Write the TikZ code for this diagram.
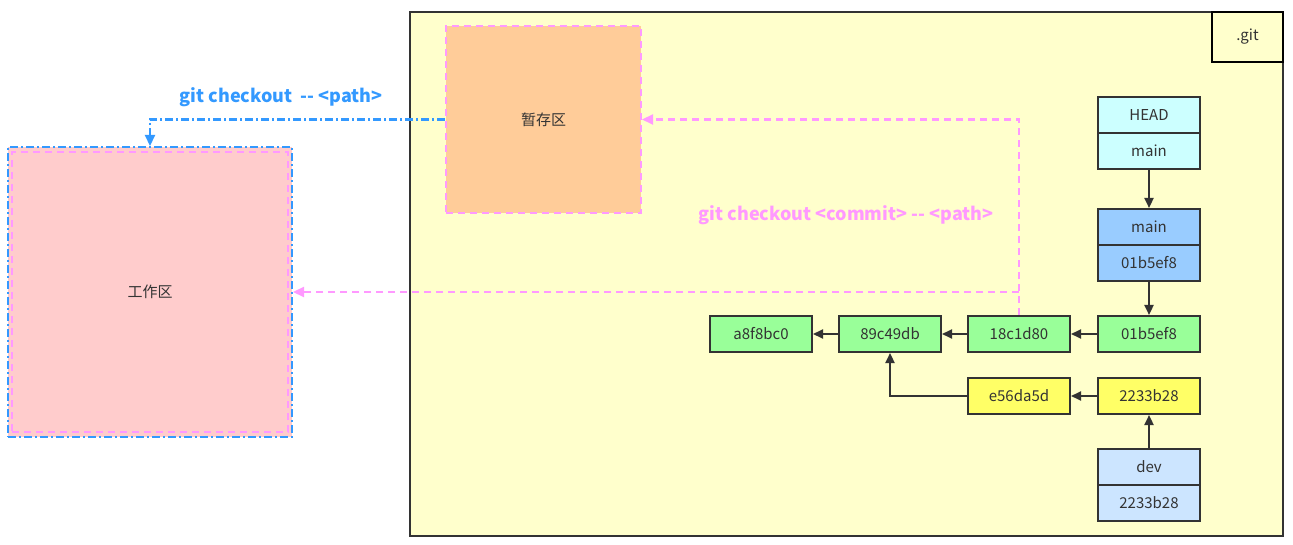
\documentclass[tikz,border=0pt]{standalone}
\usepackage{fontspec}
\setmainfont{Noto Sans CJK SC}
\usetikzlibrary{arrows.meta,calc}
\definecolor{gitfill}{HTML}{FFFFCC}
\definecolor{dark}{HTML}{333333}
\definecolor{stagefill}{HTML}{FFCC99}
\definecolor{workfill}{HTML}{FFCCCC}
\definecolor{pinkc}{HTML}{FF99FF}
\definecolor{bluec}{HTML}{3399FF}
\definecolor{headfill}{HTML}{CCFFFF}
\definecolor{mainfill}{HTML}{99CCFF}
\definecolor{commitfill}{HTML}{99FF99}
\definecolor{devcfill}{HTML}{FFFF66}
\definecolor{devfill}{HTML}{CCE5FF}
\tikzset{
  gbox/.style={draw=dark,line width=2pt,minimum width=102pt,minimum height=36pt,inner sep=0pt,font=\fontsize{15}{17}\selectfont,text=dark},
  darrow/.style={draw=dark,line width=2.2pt,-{Triangle[length=10pt,width=9pt]}},
  pinkarrow/.style={draw=pinkc,line width=2.2pt,dash pattern=on 7pt off 5pt,-{Triangle[length=11pt,width=10pt]}},
  bluearrow/.style={draw=bluec,line width=2.2pt,dash pattern=on 8pt off 3pt on 2pt off 3pt,-{Triangle[length=11pt,width=10pt]}},
}
\begin{document}
\begin{tikzpicture}[x=1pt,y=-1pt]
\useasboundingbox (0,0) rectangle (1293,545);
% .git container
\node[draw=dark,fill=gitfill,line width=2pt,minimum width=873pt,minimum height=524pt,inner sep=0pt] (git) at (846.5,274) {};
\node[draw=black,line width=2pt,minimum width=71pt,minimum height=50pt,inner sep=0pt,font=\fontsize{15}{17}\selectfont,text=dark] (gitlbl) at (1247.5,37) {.git};
% stage
\node[draw=pinkc,fill=stagefill,line width=2pt,dash pattern=on 7pt off 5pt,minimum width=195pt,minimum height=187pt,inner sep=0pt,font=\fontsize{15}{17}\selectfont,text=dark] (stage) at (543.5,119.5) {暂存区};
% work
\node[draw=bluec,fill=workfill,line width=2pt,dash pattern=on 8pt off 3pt on 2pt off 3pt,minimum width=284pt,minimum height=290pt,inner sep=0pt] (work) at (150,292) {};
\node[draw=pinkc,line width=2pt,dash pattern=on 7pt off 5pt,minimum width=276pt,minimum height=280pt,inner sep=0pt,font=\fontsize{15}{17}\selectfont,text=dark] (workin) at (150,292) {工作区};
% refs
\node[gbox,fill=headfill] (head) at (1149,115) {HEAD};
\node[gbox,fill=headfill] (headm) at (1149,151) {main};
\node[gbox,fill=mainfill] (main) at (1149,227) {main};
\node[gbox,fill=mainfill] (mainc) at (1149,263) {01b5ef8};
% commits
\node[gbox,fill=commitfill] (ca8) at (761,334) {a8f8bc0};
\node[gbox,fill=commitfill] (c89) at (890,334) {89c49db};
\node[gbox,fill=commitfill] (c18) at (1019,334) {18c1d80};
\node[gbox,fill=commitfill] (c01) at (1149,334) {01b5ef8};
\node[gbox,fill=devcfill] (ce5) at (1019,396) {e56da5d};
\node[gbox,fill=devcfill] (c22) at (1149,396) {2233b28};
\node[gbox,fill=devfill] (dev) at (1149,467) {dev};
\node[gbox,fill=devfill] (devc) at (1149,503) {2233b28};
% arrows
\draw[darrow] (headm) -- (main);
\draw[darrow] (mainc) -- (c01);
\draw[darrow] (c01) -- (c18);
\draw[darrow] (c18) -- (c89);
\draw[darrow] (c89) -- (ca8);
\draw[darrow] (c22) -- (ce5);
\draw[darrow] (ce5.west) -| (c89.south);
\draw[darrow] (dev) -- (c22);
% checkout arrows
\draw[pinkarrow] (c18.north) |- (stage.east);
\coordinate (split) at (c18.north |- work.east);
\draw[pinkarrow] (split) -- (work.east);
\draw[bluearrow] (stage.west) -| (work.north);
% labels
\node[text=bluec,font=\fontsize{18}{21}\selectfont\bfseries] (lblue) at (281,97) {git checkout\ \ -{}- <path>};
\node[text=pinkc,font=\fontsize{18}{21}\selectfont\bfseries] (lpink) at (846,215) {git checkout <commit> -{}- <path>};
\end{tikzpicture}
\end{document}
